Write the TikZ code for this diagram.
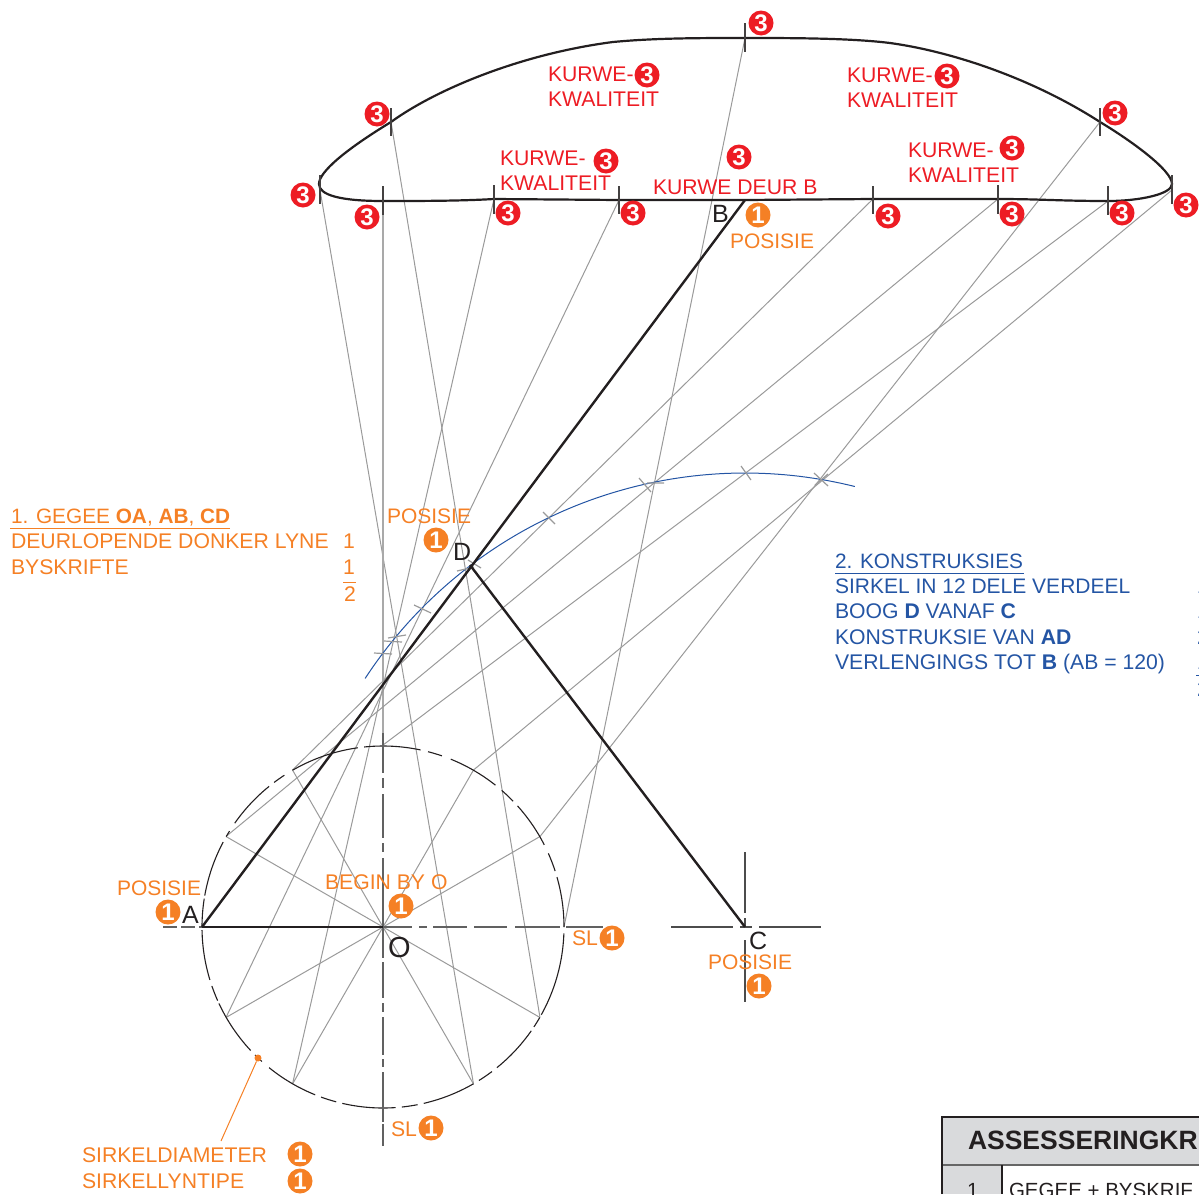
\documentclass[tikz,border=0pt]{standalone}
\usepackage{fontspec}
\setmainfont{Liberation Sans}
\definecolor{org}{HTML}{F58025}
\definecolor{rd}{HTML}{ED1C24}
\definecolor{blu}{HTML}{2455A4}
\definecolor{ink}{HTML}{231F20}
\definecolor{gr}{HTML}{9A9A9A}
\definecolor{hdr}{HTML}{D9DADC}
\tikzset{
  txt/.style={anchor=base west,inner sep=0pt,outer sep=0pt,font=\fontsize{21.2}{21.2}\selectfont},
  otxt/.style={txt,text=org},
  rtxt/.style={txt,text=rd},
  btxt/.style={txt,text=blu},
  headtxt/.style={font=\fontsize{20.8}{20.8}\selectfont},
  midtxt/.style={font=\fontsize{21}{21}\selectfont},
  letter/.style={txt,text=ink,font=\fontsize{25}{25}\selectfont},
  badge/.style={circle,inner sep=0pt,minimum size=25pt,text=white,font=\fontsize{24}{24}\selectfont\bfseries},
  redb/.style={badge,fill=rd},
  orab/.style={badge,fill=org},
  conline/.style={draw=gr,line width=1pt},
  heavy/.style={draw=ink,line width=2.4pt},
  tick/.style={draw=ink!85,line width=1.3pt},
  arctick/.style={draw=gr,line width=1.2pt},
  centre/.style={draw=black!62,line width=1.5pt},
}
\begin{document}
\begin{tikzpicture}[x=1pt,y=-1pt]
\useasboundingbox (0,0) rectangle (1199,1194);
% key points
\coordinate (O) at (383,927);
\coordinate (A) at (202,927);
\coordinate (B) at (745,200);
\coordinate (C) at (745,927);
\coordinate (D) at (470,565);
\coordinate (P0) at (564,927);
\coordinate (P30) at (540,836.5);
\coordinate (P60) at (473.5,770);
\coordinate (P90) at (383,745);
\coordinate (P120) at (292.5,770);
\coordinate (P150) at (226,836.5);
\coordinate (P210) at (226,1017.5);
\coordinate (P240) at (292.5,1084);
\coordinate (P270) at (383,1108);
\coordinate (P300) at (473.5,1084);
\coordinate (P330) at (540,1017.5);
\coordinate (T1) at (320,190);
\coordinate (T2) at (391,122);
\coordinate (T3) at (745,38);
\coordinate (T4) at (1100,122);
\coordinate (T5) at (1172,190);
\coordinate (L1) at (383,201);
\coordinate (L2) at (494,199);
\coordinate (L3) at (619,200);
\coordinate (L4) at (873,199);
\coordinate (L5) at (998,199);
\coordinate (L6) at (1108,201);
% construction lines
\draw[conline] (T1) -- (P300);
\draw[conline] (T2) -- (P330);
\draw[draw=gr!85,line width=1.5pt] (L1) -- (P90);
\draw[conline] (L2) -- (P240);
\draw[conline] (L3) -- (P210);
\draw[conline] (T3) -- (P0);
\draw[conline] (L4) -- (P120);
\draw[conline] (L5) -- (P150);
\draw[conline] (L6) -- (P90);
\draw[conline] (T5) -- (P60);
\draw[conline] (T4) -- (P30);
% spokes
\draw[conline] (P30) -- (P210);
\draw[conline] (P60) -- (P240);
\draw[conline] (P120) -- (P300);
\draw[conline] (P150) -- (P330);
% circle, drawn dash by dash
\foreach \a/\b in {0/16,18/24,27/42,44/49,51.6/68,71/75.6,78/96,98/106,107/120,123/127,129/145,148/150,152/170,171/180,
  181/197,199/204,205/223,225/228,231/248,250/255,257/274,276/281,283/300,302/307,309/325,326.5/330,331/358}
  \draw[draw=ink,line width=1.1pt] plot[domain=\a:\b,samples=24] ({383+181*cos(\x)},{927-181*sin(\x)});
% centre lines
\foreach \p/\q in {383/412,419/427,433/467,474/507,515/560,566/603}
  \draw[centre] (\p,927) -- (\q,927);
\foreach \p/\q in {733/773,778/788,794/838,843/852,858/927,927/958,962/998,1003/1012,1017/1055,1059/1067,1072/1122,1124/1146}
  \draw[centre] (383,\p) -- (383,\q);
\draw[centre,dash pattern=on 14pt off 4pt] (163,927) -- (A);
% cross at C
\draw[draw=black!70,line width=1.2pt] (671,927) -- (733,927) (759,927) -- (821,927) (740,927) -- (752,927)
  (745,852) -- (745,913) (745,918) -- (745,927) (745,940) -- (745,1002);
% compass arc
\draw[draw=blu,line width=1pt] plot[domain=146.8:76,samples=80] ({745+454*cos(\x)},{927-454*sin(\x)});
\draw[arctick] (543,512) -- (555,524) (639,478) -- (651,492) (647,483) -- (664,483)
  (741,466) -- (751,480) (814,473) -- (828,486) (815,485) -- (828,474) (457,571) -- (474,567)
  (468,560) -- (481,568) (414,605) -- (431,613) (384,641) -- (402,642) (388,638) -- (406,635)
  (374,653) -- (392,654);
% heavy lines
\draw[heavy] (A) -- (O);
\draw[heavy] (A) -- (B);
\draw[heavy] (D) -- (C);
% door curve
\draw[draw=ink,line width=2.2pt] (319,184) .. controls (319,172) and (345,150) .. (T2)
  .. controls (435,90) and (520,54) .. (613,42)
  .. controls (655,38) and (700,38) .. (T3)
  .. controls (790,38) and (850,38) .. (890,43)
  .. controls (955,52) and (1035,80) .. (T4)
  .. controls (1130,140) and (1172,170) .. (1172,184)
  .. controls (1172,194) and (1140,201) .. (L6)
  .. controls (1060,201) and (1040,199) .. (L5)
  -- (L4) -- (B) -- (L3) -- (L2)
  .. controls (460,201) and (420,201) .. (L1)
  .. controls (340,201) and (319,195) .. (319,184) -- cycle;
% ticks
\draw[tick] (T2) ++(0,-14) -- ++(0,28);
\draw[tick] (745,23) -- (745,52);
\draw[tick] (T4) ++(0,-14) -- ++(0,28);
\draw[tick] (320,175) -- (320,204);
\draw[tick] (1172,175) -- (1172,204);
\draw[tick] (383,186) -- (383,215);
\draw[tick] (494,185) -- (494,214);
\draw[tick] (619,186) -- (619,214);
\draw[tick] (873,186) -- (873,214);
\draw[tick] (998,185) -- (998,214);
\draw[tick] (1108,186) -- (1108,215);
% leader
\node[circle,fill=org,inner sep=0pt,minimum size=7pt] (dot) at (258,1058) {};
\coordinate (lead) at (221,1141);
\draw[draw=org,line width=1pt] (dot) -- (lead);
% red text
\node[rtxt] (k1a) at (548,81) {KURWE-};
\node[rtxt] (k1b) at (548,106) {KWALITEIT};
\node[rtxt] (k2a) at (847,82) {KURWE-};
\node[rtxt] (k2b) at (847,107) {KWALITEIT};
\node[rtxt] (k3a) at (500,165) {KURWE-};
\node[rtxt] (k3b) at (500,190) {KWALITEIT};
\node[rtxt] (k4a) at (908,157) {KURWE-};
\node[rtxt] (k4b) at (908,182) {KWALITEIT};
\node[rtxt] (kd) at (653,194) {KURWE DEUR B};
% red badges
\node[redb] (r1) at (761,23) {3};
\node[redb] (r2) at (377,114) {3};
\node[redb] (r3) at (303,195) {3};
\node[redb] (r4) at (367,217) {3};
\node[redb] (r5) at (508,213) {3};
\node[redb] (r6) at (633,213) {3};
\node[redb] (r7) at (739,157) {3};
\node[redb] (r8) at (647,75) {3};
\node[redb] (r9) at (947,76) {3};
\node[redb] (r10) at (606,161) {3};
\node[redb] (r11) at (1115,113) {3};
\node[redb] (r12) at (1012,148) {3};
\node[redb] (r13) at (888,216) {3};
\node[redb] (r14) at (1012,214) {3};
\node[redb] (r15) at (1122,213) {3};
\node[redb] (r16) at (1186,205) {3};
% point letters
\node[letter] (lA) at (182,923) {A};
\node[letter] (lB) at (712,222) {B};
\node[letter] (lC) at (749,949) {C};
\node[letter] (lD) at (453,560) {D};
\node[letter,font=\fontsize{29}{29}\selectfont] (lO) at (388,957) {O};
% orange text
\node[otxt,headtxt] (t1) at (11,523.5) {1. GEGEE \textbf{OA}, \textbf{AB}, \textbf{CD}};
\draw[draw=org,line width=1pt] (10,528) -- (230,528);
\node[otxt] (t2) at (11,548.5) {DEURLOPENDE DONKER LYNE};
\node[otxt] (t3) at (11,574.5) {BYSKRIFTE};
\node[otxt] (t4) at (343,548.5) {1};
\node[otxt] (t5) at (343,574.5) {1};
\draw[draw=org,line width=1pt] (343,582) -- (356,582);
\node[otxt] (t6) at (344,601) {2};
\node[otxt,midtxt] (p1) at (730,248) {POSISIE};
\node[otxt,midtxt] (p2) at (387,523) {POSISIE};
\node[otxt,midtxt] (p3) at (117,895) {POSISIE};
\node[otxt,midtxt] (p4) at (708,969) {POSISIE};
\node[otxt] (bg) at (325,889) {BEGIN BY O};
\node[otxt] (sl1) at (572,945) {SL};
\node[otxt] (sl2) at (391,1136) {SL};
\node[otxt] (sd) at (82,1162) {SIRKELDIAMETER};
\node[otxt] (st) at (82,1188) {SIRKELLYNTIPE};
% orange badges
\node[orab] (o1) at (758,215) {1};
\node[orab] (o2) at (436,540) {1};
\node[orab] (o3) at (168,912) {1};
\node[orab] (o4) at (401,906) {1};
\node[orab] (o5) at (612,938) {1};
\node[orab] (o6) at (759,986) {1};
\node[orab] (o7) at (431,1128) {1};
\node[orab] (o8) at (300,1154) {1};
\node[orab] (o9) at (300,1181) {1};
% blue text
\node[btxt,headtxt] (b0) at (835,568.5) {2. KONSTRUKSIES};
\draw[draw=blu,line width=1pt] (835,573) -- (1024,573);
\node[btxt,midtxt] (b1) at (835,593.5) {SIRKEL IN 12 DELE VERDEEL};
\node[btxt] (b2) at (835,618.5) {BOOG \textbf{D} VANAF \textbf{C}};
\node[btxt] (b3) at (835,644.5) {KONSTRUKSIE VAN \textbf{AD}};
\node[btxt] (b4) at (835,669.5) {VERLENGINGS TOT \textbf{B} (AB = 120)};
\node[btxt] (n1) at (1197,593.5) {1};
\node[btxt] (n2) at (1197,618.5) {1};
\node[btxt] (n3) at (1197,644.5) {2};
\node[btxt] (n4) at (1197,669.5) {1};
\draw[draw=blu,line width=1pt] (1196,675) -- (1199,675);
\node[btxt] (n5) at (1197,696) {2};
% table
\fill[hdr] (943,1117) rectangle (1199,1165);
\fill[hdr] (943,1165) rectangle (1002,1194);
\draw[draw=ink,line width=2pt] (942,1194) -- (942,1117) -- (1199,1117);
\draw[draw=black!60,line width=1.6pt] (943,1165) -- (1199,1165);
\draw[draw=ink,line width=1.2pt] (1002,1165) -- (1002,1194);
\node[txt,text=ink,font=\fontsize{26.5}{26.5}\selectfont\bfseries] (h) at (968,1149) {ASSESSERINGKR};
\node[txt,text=ink,font=\fontsize{20.5}{20.5}\selectfont] (c1) at (967,1197) {1};
\node[txt,text=ink,font=\fontsize{20.5}{20.5}\selectfont] (c2) at (1009,1197) {GEGEE + BYSKRIF};
\end{tikzpicture}
\end{document}
